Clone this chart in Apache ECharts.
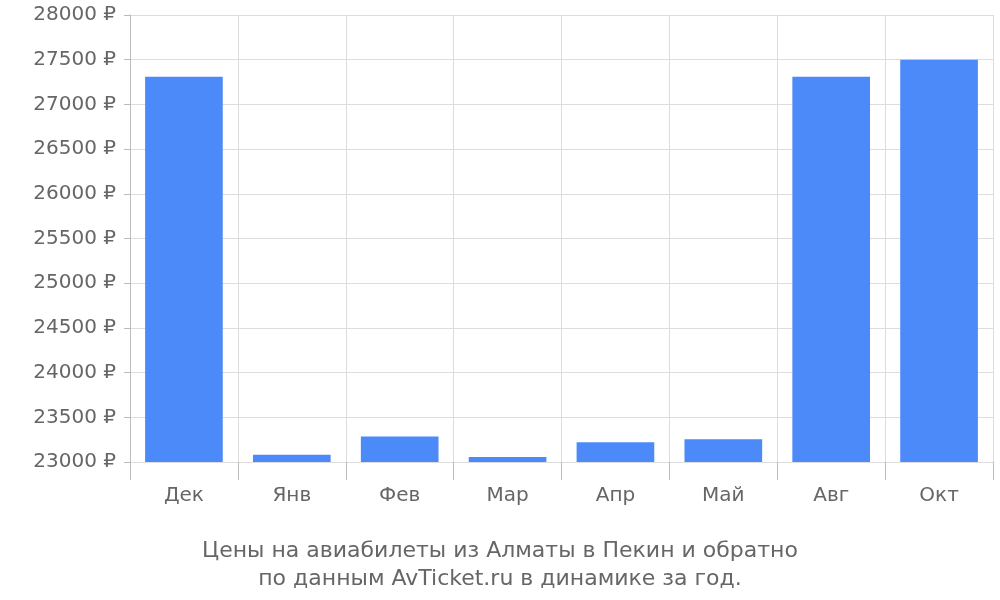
<!DOCTYPE html><html><head><meta charset="utf-8"><script src="https://cdn.jsdelivr.net/npm/echarts@6/dist/echarts.min.js"></script></head><body style="margin:0"><div id="c" style="width:1000px;height:600px"></div><script>
const categories=['Дек','Янв','Фев','Мар','Апр','Май','Авг','Окт'];
const prices=[27310,23080,23285,23055,23220,23255,27310,27500];
const titleLines=['Цены на авиабилеты из Алматы в Пекин и обратно','по данным AvTicket.ru в динамике за год.'];
const ch=echarts.init(document.getElementById('c'));
ch.setOption({animation:false,
title:{text:titleLines.join('\n'),left:'center',top:532,textStyle:{fontFamily:'DejaVu Sans',fontSize:22,fontWeight:'normal',color:'#666',lineHeight:28}},
grid:{left:130,right:7,top:15,bottom:138},
xAxis:{type:'category',data:categories,axisLine:{show:false},axisTick:{show:true,length:18,lineStyle:{color:'#bbb'}},
 splitLine:{show:true,lineStyle:{color:'#ddd'}},axisLabel:{margin:24,fontFamily:'DejaVu Sans',fontSize:20,color:'#666'}},
yAxis:{type:'value',min:23000,max:28000,interval:500,axisLine:{show:true,lineStyle:{color:'#bbb'}},axisTick:{show:true,length:6,lineStyle:{color:'#bbb'}},
 splitLine:{lineStyle:{color:'#ddd'}},axisLabel:{formatter:v=>v+' ₽',fontFamily:'DejaVu Sans',fontSize:20,color:'#666',margin:14}},
series:[{type:'bar',data:prices,barWidth:'72%',itemStyle:{color:'#4d8af9'}}]});
</script></body></html>
